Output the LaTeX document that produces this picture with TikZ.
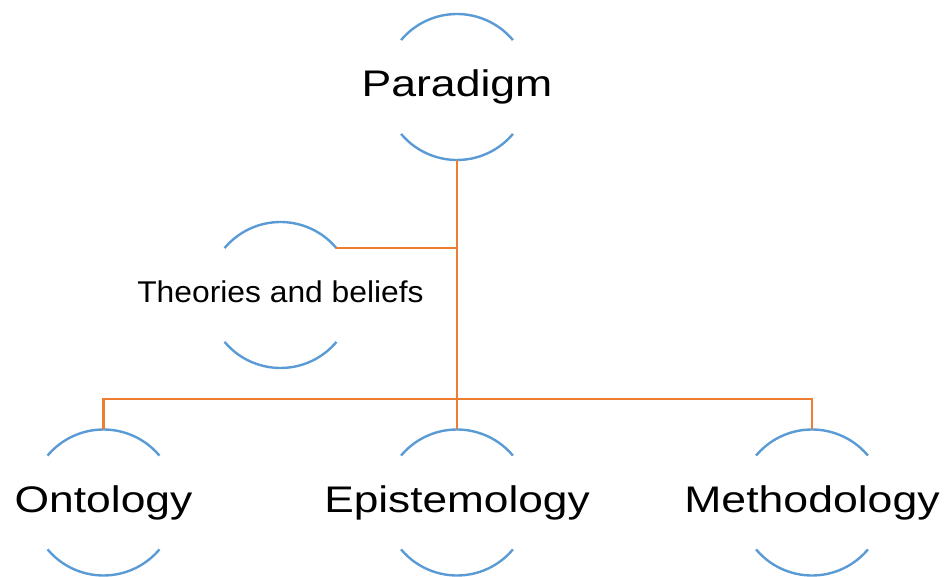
\documentclass[tikz,border=0pt]{standalone}
\usepackage{fontspec}
\usepackage{graphicx}
\setmainfont{Liberation Sans}
\definecolor{ringblue}{HTML}{5B9BD5}
\definecolor{linkorange}{HTML}{ED7D31}
\newcommand{\widetext}[2]{\scalebox{#1}[1]{#2}}
\begin{document}
\begin{tikzpicture}[x=1pt,y=1pt,
  ring/.style={circle, minimum size=146pt, inner sep=0pt, outer sep=0pt, draw=none},
  ringarc/.style={draw=ringblue, line width=2.4pt},
  link/.style={draw=linkorange, line width=2.8pt},
  bigtext/.style={anchor=base, inner sep=0pt, font=\fontsize{37}{42}\selectfont},
  smalltext/.style={anchor=base, inner sep=0pt, font=\fontsize{30}{34}\selectfont}]
\useasboundingbox (0,0) rectangle (946,-577);

% invisible rings that carry the names
\node[ring] (par) at (457,-87) {};
\node[ring] (the) at (280.5,-295) {};
\node[ring] (ont) at (103.5,-502.5) {};
\node[ring] (epi) at (457,-502.5) {};
\node[ring] (met) at (812,-502.5) {};

% upper and lower arcs of each ring
\foreach \n in {par,the,ont,epi,met}{
  \draw[ringarc] (\n.40) arc[start angle=40, end angle=140, radius=73pt];
  \draw[ringarc] (\n.220) arc[start angle=220, end angle=320, radius=73pt];
}

% labels
\node[bigtext] (parlbl) at ([yshift=-10pt]par.center) {\widetext{1.205}{Paradigm}};
\node[smalltext] (thelbl) at ([yshift=-8pt]the.center) {\widetext{1.06}{Theories and beliefs}};
\node[bigtext] (ontlbl) at ([yshift=-9.5pt]ont.center) {\widetext{1.2}{Ontology}};
\node[bigtext] (epilbl) at ([yshift=-9.5pt]epi.center) {\widetext{1.195}{Epistemology}};
\node[bigtext] (metlbl) at ([yshift=-9.5pt]met.center) {\widetext{1.205}{Methodology}};

% connectors
\coordinate (bus) at (457,-399);
\draw[link] (par.south) -- (epi.north);
\draw[link] (the.40) -- (the.40 -| par.south);
\draw[link] (ont.north) |- (bus) -| (met.north);
\end{tikzpicture}
\end{document}
